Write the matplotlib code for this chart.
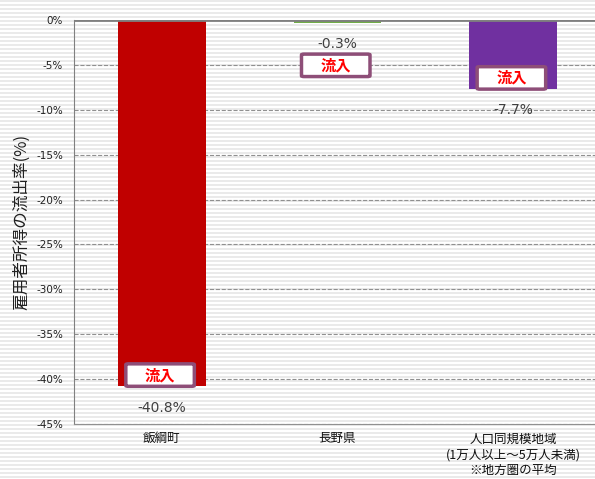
import numpy as np
import matplotlib.pyplot as plt
from matplotlib.patches import FancyBboxPatch

plt.rcParams['font.family'] = ['Noto Sans CJK JP', 'DejaVu Sans']

# data
categories = ["飯綱町", "長野県", "人口同規模地域\n(1万人以上～5万人未満)\n※地方圏の平均"]
values = [-40.8, -0.3, -7.7]
bar_colors = ["#C00000", "#70AD47", "#7030A0"]
yticks = [0, -5, -10, -15, -20, -25, -30, -35, -40, -45]

W, H = 595, 479
fig = plt.figure(figsize=(W / 100, H / 100), dpi=100)

# striped background
rows = np.arange(H)
shade = np.where(rows % 4 < 2, 0.92, 1.0)
bg = np.repeat(shade[:, None], W, axis=1)
bg = np.dstack([bg, bg, bg])
fig.figimage(bg, xo=0, yo=0, zorder=-10)

ax = fig.add_axes([74 / W, 55 / H, 527 / W, 404 / H])
ax.set_facecolor("none")

x = np.arange(len(categories))
ax.bar(x, values, width=0.5, color=bar_colors, zorder=3)

# "流入" tags: bottom edge of each box (sits on the bar end, or below the thin bar)
box_w, box_h = 0.39, 2.5
tag_bottom = [values[0], -6.3, values[2]]

for i, v in enumerate(values):
    ax.text(i, v - 1.6, f"{v}%", ha="center", va="top", fontsize=10,
            color="#404040", family="DejaVu Sans", zorder=5)
    cx = i - 0.01
    box = FancyBboxPatch((cx - box_w / 2, tag_bottom[i]), box_w, box_h,
                         boxstyle="round,pad=0,rounding_size=0.015",
                         mutation_aspect=6,
                         facecolor="white", edgecolor="#8E4E78",
                         linewidth=2.5, zorder=6)
    ax.add_patch(box)
    ax.text(cx, tag_bottom[i] + box_h / 2, "流入", ha="center", va="center",
            fontsize=11, color="#FF0000", fontweight="bold", zorder=7)

ax.set_ylim(-45, 0)
ax.set_xlim(-0.5, 2.5)
ax.set_yticks(yticks)
ax.set_yticklabels([f"{t}%" for t in yticks], family="DejaVu Sans")
ax.tick_params(axis="y", length=0, labelsize=7.5, colors="#202020", pad=8)
ax.set_xticks(x)
ax.set_xticklabels(categories, fontsize=9, color="#101010", linespacing=1.3)
ax.tick_params(axis="x", length=0, pad=6)

ax.grid(axis="y", color="#909090", linestyle="--", linewidth=0.8, zorder=1)
ax.spines["right"].set_visible(False)
ax.spines["top"].set_visible(False)
ax.spines["left"].set_color("#808080")
ax.spines["bottom"].set_color("#909090")
ax.axhline(0, color="#808080", linewidth=2, zorder=4)

ax.set_ylabel("雇用者所得の流出率(%)", fontsize=12, color="#202020", labelpad=4)

fig.savefig("out.png", dpi=100)
